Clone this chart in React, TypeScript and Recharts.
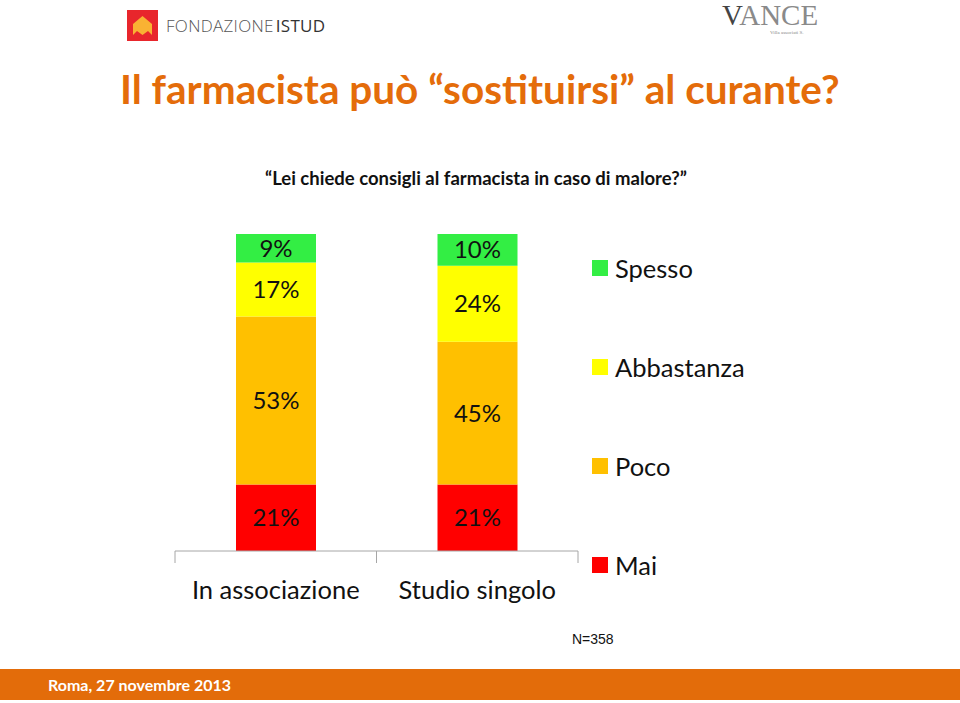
import { BarChart, Bar, XAxis, YAxis, LabelList } from "recharts";

const categories = ["In associazione", "Studio singolo"];
const mai = [21, 21];
const poco = [53, 45];
const abbastanza = [17, 24];
const spesso = [9, 10];

const series = [
  { key: "mai", name: "Mai", color: "#FF0000" },
  { key: "poco", name: "Poco", color: "#FFC000" },
  { key: "abbastanza", name: "Abbastanza", color: "#FFFF00" },
  { key: "spesso", name: "Spesso", color: "#33EE44" },
];

const data = categories.map((c, i) => ({
  name: c,
  mai: mai[i],
  poco: poco[i],
  abbastanza: abbastanza[i],
  spesso: spesso[i],
}));

const FONT = "Lato, 'Open Sans', sans-serif";

function CatTick(props: any) {
  const { x, y, payload, index, width } = props;
  const band = width / categories.length;
  const left = x - band / 2;
  return (
    <g>
      <line x1={left} y1={y - 8} x2={left} y2={y + 4} stroke="#A6A6A6" />
      {index === categories.length - 1 && (
        <line x1={left + band} y1={y - 8} x2={left + band} y2={y + 4} stroke="#A6A6A6" />
      )}
      <text x={x} y={y + 40} textAnchor="middle" fontSize={25.5} fill="#111" fontFamily={FONT}>
        {payload.value}
      </text>
    </g>
  );
}

export default function App() {
  const legendItems = [...series].reverse();
  return (
    <div style={{ position: "relative", width: 960, height: 703, background: "#fff", overflow: "hidden", fontFamily: FONT }}>
      <style>{`body{margin:0}`}</style>

      {/* logo Fondazione ISTUD */}
      <div style={{ position: "absolute", left: 127, top: 10, width: 31, height: 31, background: "#E8262C" }}>
        <svg width={31} height={31} viewBox="0 0 31 31">
          <path d="M6 14 L15.5 6 L25 14 L25 25 L21 21 L15.5 25 L10 21 L6 25 Z" fill="#F9B233" />
        </svg>
      </div>
      <div style={{ position: "absolute", left: 166, top: 14, fontSize: 17, letterSpacing: 0.3, color: "#555", fontFamily: "'Open Sans', sans-serif", fontWeight: 300 }}>
        FONDAZIONE<span style={{ color: "#333", fontWeight: 400, marginLeft: 2 }}>ISTUD</span>
      </div>

      {/* logo ANCE */}
      <div style={{ position: "absolute", left: 722, top: 1, fontSize: 29, lineHeight: "28px", color: "#8A8A8A", fontFamily: "'Liberation Serif', serif", whiteSpace: "nowrap" }}>
        <span style={{ color: "#444" }}>V</span>ANCE
      </div>
      <div style={{ position: "absolute", left: 770, top: 30, fontSize: 5, lineHeight: "5px", color: "#888", fontFamily: "serif", whiteSpace: "nowrap" }}>Villa associati S.</div>

      <div style={{ position: "absolute", left: 120, top: 64, fontSize: 40.5, fontWeight: 700, color: "#E46C0A", whiteSpace: "nowrap" }}>
        Il farmacista può “sostituirsi” al curante?
      </div>
      <div style={{ position: "absolute", left: 265, top: 167, fontSize: 18.5, fontWeight: 700, color: "#111", whiteSpace: "nowrap" }}>
        “Lei chiede consigli al farmacista in caso di malore?”
      </div>

      <div style={{ position: "absolute", left: 0, top: 0 }}>
        <BarChart
          width={960}
          height={703}
          data={data}
          margin={{ top: 234, left: 175, right: 382, bottom: 92 }}
          barSize={80}
        >
          <XAxis
            dataKey="name"
            axisLine={{ stroke: "#A6A6A6" }}
            tickLine={false}
            tick={<CatTick />}
            height={60}
            interval={0}
          />
          <YAxis hide domain={[0, 100]} />
          {series.map((s) => (
            <Bar key={s.key} dataKey={s.key} name={s.name} stackId="a" fill={s.color} isAnimationActive={false}>
              <LabelList
                dataKey={s.key}
                position="center"
                formatter={(v: any) => `${v}%`}
                style={{ fontSize: 24, fill: "#111", fontFamily: FONT }}
              />
            </Bar>
          ))}
        </BarChart>
      </div>

      {/* legend */}
      {legendItems.map((it, i) => (
        <div key={it.key} style={{ position: "absolute", left: 592, top: 256 + i * 99, display: "flex", alignItems: "center" }}>
          <div style={{ width: 16, height: 16, background: it.color, marginRight: 7 }} />
          <span style={{ fontSize: 25.5, color: "#111", lineHeight: "24px" }}>{it.name}</span>
        </div>
      ))}

      <div style={{ position: "absolute", left: 572, top: 631, fontSize: 14, color: "#111", fontFamily: "'Liberation Sans', Arial, sans-serif" }}>N=358</div>

      <div style={{ position: "absolute", left: 0, top: 669, width: 960, height: 31, background: "#E36C0A" }}>
        <div style={{ position: "absolute", left: 48, top: 6, fontSize: 16, fontWeight: 700, color: "#fff" }}>Roma, 27 novembre 2013</div>
      </div>
    </div>
  );
}
